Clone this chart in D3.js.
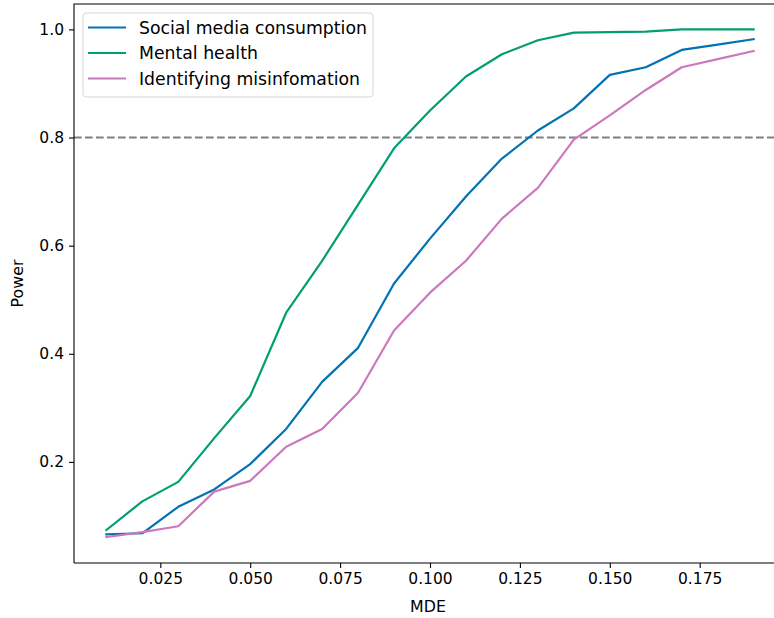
<!DOCTYPE html>
<html>
<head>
<meta charset="utf-8">
<script src="https://cdn.jsdelivr.net/npm/d3@7"></script>
<style>
  body { margin: 0; background: #fff; }
  svg { font-family: 'DejaVu Sans', sans-serif; }
</style>
</head>
<body>
<svg id="chart"></svg>
<script>
const mde = [0.01, 0.02, 0.03, 0.04, 0.05, 0.06, 0.07, 0.08, 0.09, 0.10,
  0.11, 0.12, 0.13, 0.14, 0.15, 0.16, 0.17, 0.18, 0.19];
const socialMedia = [0.066, 0.068, 0.117, 0.149, 0.196, 0.261, 0.348, 0.411, 0.530, 0.613,
  0.691, 0.761, 0.813, 0.854, 0.916, 0.930, 0.962, 0.972, 0.982];
const mentalHealth = [0.074, 0.127, 0.163, 0.244, 0.322, 0.476, 0.572, 0.676, 0.780, 0.850,
  0.913, 0.954, 0.980, 0.994, 0.995, 0.996, 1.0, 1.0, 1.0];
const misinfo = [0.061, 0.070, 0.081, 0.145, 0.165, 0.228, 0.261, 0.328, 0.443, 0.513,
  0.572, 0.650, 0.707, 0.796, 0.841, 0.888, 0.930, 0.945, 0.960];
const seriesNames = ['Social media consumption', 'Mental health', 'Identifying misinfomation'];
const seriesColors = ['#0173b2', '#029e73', '#cc78bc'];
const xTicks = [0.025, 0.050, 0.075, 0.100, 0.125, 0.150, 0.175];
const yTicks = [0.2, 0.4, 0.6, 0.8, 1.0];
const threshold = 0.8;

const width = 774, height = 618;
const plot = { left: 74, right: 786, top: 4, bottom: 563 };

const svg = d3.select('#chart').attr('width', width).attr('height', height);

const x = d3.scaleLinear().domain([0.001, 0.199]).range([plot.left, plot.right]);
const y = d3.scaleLinear().domain([0.013, 1.047]).range([plot.bottom, plot.top]);

const series = [socialMedia, mentalHealth, misinfo].map((vals, i) => ({
  name: seriesNames[i],
  color: seriesColors[i],
  values: vals.map((v, j) => ({ x: mde[j], y: v }))
}));

// threshold line
svg.append('line')
  .attr('x1', plot.left).attr('x2', plot.right)
  .attr('y1', y(threshold)).attr('y2', y(threshold))
  .attr('stroke', '#808080')
  .attr('stroke-width', 2)
  .attr('stroke-dasharray', '7.7,3.3');

const line = d3.line().x(d => x(d.x)).y(d => y(d.y));

svg.selectAll('.series')
  .data(series)
  .enter().append('path')
    .attr('class', 'series')
    .attr('d', d => line(d.values))
    .attr('fill', 'none')
    .attr('stroke', d => d.color)
    .attr('stroke-width', 2.2)
    .attr('stroke-linejoin', 'round')
    .attr('stroke-linecap', 'square');

// axes
const xAxis = d3.axisBottom(x).tickValues(xTicks).tickFormat(d3.format('.3f')).tickSize(5).tickPadding(5);
const yAxis = d3.axisLeft(y).tickValues(yTicks).tickFormat(d3.format('.1f')).tickSize(5).tickPadding(5);

const gx = svg.append('g')
  .attr('transform', `translate(0, ${plot.bottom})`)
  .call(xAxis);
const gy = svg.append('g')
  .attr('transform', `translate(${plot.left}, 0)`)
  .call(yAxis);

[gx, gy].forEach(g => {
  g.select('.domain').remove();
  g.selectAll('.tick line').attr('stroke', '#000').attr('stroke-width', 1.1);
  g.selectAll('.tick text')
    .attr('font-size', 15.5)
    .attr('font-family', 'DejaVu Sans, sans-serif')
    .attr('fill', '#000');
});

// spines
svg.append('path')
  .attr('d', `M${plot.left},${plot.bottom}H${plot.right}M${plot.left},${plot.bottom}V${plot.top}H${plot.right}`)
  .attr('fill', 'none')
  .attr('stroke', '#000')
  .attr('stroke-width', 1.1);

// axis labels
svg.append('text')
  .attr('x', (plot.left + plot.right) / 2 - 2)
  .attr('y', 612)
  .attr('text-anchor', 'middle')
  .attr('font-size', 15.8)
  .text('MDE');
svg.append('text')
  .attr('transform', `translate(23, ${(plot.top + plot.bottom) / 2}) rotate(-90)`)
  .attr('text-anchor', 'middle')
  .attr('font-size', 15.8)
  .text('Power');

// legend
const legend = svg.append('g');
legend.append('rect')
  .attr('x', 83).attr('y', 13)
  .attr('width', 290).attr('height', 84)
  .attr('rx', 3)
  .attr('fill', '#fff')
  .attr('fill-opacity', 0.8)
  .attr('stroke', '#d8d8d8');

const items = legend.selectAll('.item')
  .data(series)
  .enter().append('g')
    .attr('class', 'item')
    .attr('transform', (d, i) => `translate(0, ${27.5 + i * 25.5})`);
items.append('line')
  .attr('x1', 88).attr('x2', 126)
  .attr('stroke', d => d.color)
  .attr('stroke-width', 2.2);
items.append('text')
  .attr('x', 139)
  .attr('dy', '0.35em')
  .attr('font-size', 17.3)
  .text(d => d.name);
</script>
</body>
</html>
